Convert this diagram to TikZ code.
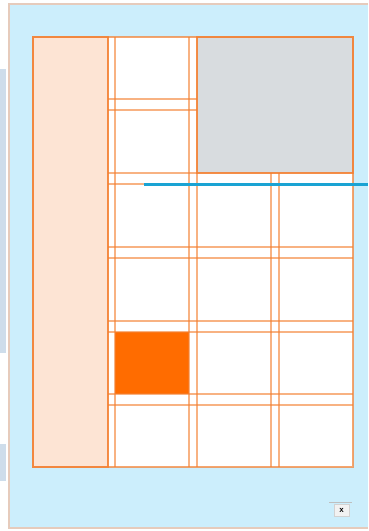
\documentclass[tikz,border=0pt]{standalone}
\usetikzlibrary{calc}
\definecolor{panelblue}{HTML}{CCEEFC}
\definecolor{panelborder}{HTML}{E6CBBC}
\definecolor{peach}{HTML}{FDE4D4}
\definecolor{gridor}{HTML}{F47F30}
\definecolor{greybox}{HTML}{D8DCDF}
\definecolor{solidor}{HTML}{FF6C00}
\definecolor{cyanline}{HTML}{1AA3D3}
\definecolor{strip}{HTML}{CEDDEB}
\tikzset{
  gl/.style={draw=gridor, draw opacity=0.6, line width=1.5pt},
  cellbox/.style={draw=gridor, draw opacity=0.7, line width=1.5pt},
}
\begin{document}
\begin{tikzpicture}[x=1pt,y=-1pt]
\useasboundingbox (0,0) rectangle (368,531);
\fill[white] (0,0) rectangle (368,531);
% left strips
\fill[strip] (0,69) rectangle (6,353);
\fill[strip] (0,444) rectangle (6,481);
% panel
\fill[panelblue] (9,4) rectangle (368,528);
\draw[panelborder, line width=1.3pt] (368,4) -- (9,4) -- (9,528) -- (368,528);
% main grid area
\fill[white] (108,37) rectangle (353,467);
\fill[peach] (33,37) rectangle (108,467);
\fill[greybox] (197,37) rectangle (353,173);
\fill[solidor] (115,332) rectangle (189,394);
% named coordinates
\coordinate (tl) at (33,37);
\coordinate (br) at (353,467);
% verticals
\draw[gl] (108,37) -- (108,467);
\draw[gl] (115,37) -- (115,467);
\draw[gl] (189,37) -- (189,467);
\draw[gl] (197,37) -- (197,467);
\draw[gl] (271,173) -- (271,467);
\draw[gl] (279,173) -- (279,467);
% horizontals
\draw[gl] (108,99) -- (197,99);
\draw[gl] (108,110) -- (197,110);
\foreach \y in {173,184,247,258,321,332,394,405}
  \draw[gl] (108,\y) -- (353,\y);
% boxes
\draw[cellbox] (33,37) rectangle (108,467);
\draw[cellbox] (197,37) rectangle (353,173);
\draw[cellbox] (tl) rectangle (br);
% cyan line
\coordinate (c1) at (144,184.5);
\coordinate (c2) at (368,184.5);
\draw[cyanline, line width=2.2pt] (c1) -- (c2);
% close button
\draw[gray!50, line width=0.8pt] (329,502) -- (352,502);
\node[draw=gray!35, fill=gray!10, minimum width=15pt, minimum height=12pt, inner sep=0pt,
  font=\sffamily\bfseries\fontsize{9}{9}\selectfont] (xbtn) at (341.5,510.5) {x};
\end{tikzpicture}
\end{document}
